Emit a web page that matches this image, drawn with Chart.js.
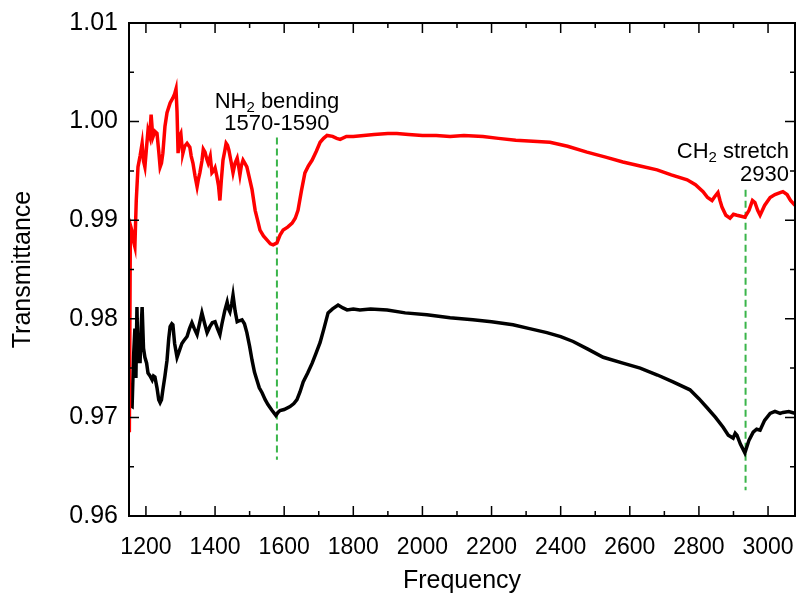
<!DOCTYPE html>
<html>
<head>
<meta charset="utf-8">
<script src="https://cdn.jsdelivr.net/npm/chart.js@4/dist/chart.umd.min.js"></script>
<style>
  html, body { margin: 0; padding: 0; background: #fff; }
  #wrap { width: 799px; height: 593px; }
</style>
</head>
<body>
<div id="wrap"><canvas id="irChart" width="799" height="593"></canvas></div>
<script>
// red spectrum (upper)
const redFreq = [1152, 1155, 1159, 1163, 1168, 1172, 1177, 1183, 1189, 1193, 1197, 1202, 1206, 1211, 1215, 1220, 1226, 1232, 1237, 1241, 1245, 1249, 1255, 1261, 1270, 1278, 1283, 1287, 1290, 1293, 1297, 1301, 1305, 1307, 1312, 1319, 1327, 1331, 1336, 1342, 1348, 1352, 1356, 1362, 1366, 1371, 1376, 1380, 1386, 1391, 1396, 1400, 1405, 1410, 1414, 1418, 1423, 1428, 1432, 1436, 1440, 1446, 1452, 1458, 1464, 1468, 1472, 1476, 1481, 1486, 1492, 1500, 1507, 1516, 1523, 1530, 1540, 1550, 1560, 1568, 1579, 1588, 1597, 1610, 1623, 1632, 1640, 1650, 1660, 1670, 1681, 1693, 1704, 1714, 1724, 1740, 1752, 1762, 1780, 1800, 1830, 1860, 1900, 1926, 1960, 2000, 2040, 2080, 2120, 2175, 2220, 2270, 2320, 2369, 2420, 2476, 2530, 2580, 2630, 2679, 2720, 2766, 2790, 2812, 2825, 2838, 2846, 2855, 2861, 2867, 2878, 2890, 2900, 2910, 2922, 2933, 2945, 2955, 2962, 2970, 2977, 2990, 3006, 3020, 3035, 3043, 3055, 3065, 3078];
const redTrans = [0.9685, 0.9895, 0.9890, 0.9880, 0.9873, 0.9920, 0.9954, 0.9965, 0.9978, 0.9960, 0.9954, 0.9975, 0.9991, 0.9985, 1.0007, 0.9984, 0.9990, 0.9988, 0.9970, 0.9954, 0.9958, 0.9968, 0.9995, 1.0009, 1.0019, 1.0024, 1.0028, 1.0033, 1.0010, 0.9968, 0.9985, 0.9988, 0.9972, 0.9968, 0.9975, 0.9978, 0.9974, 0.9965, 0.9958, 0.9945, 0.9934, 0.9942, 0.9948, 0.9960, 0.9972, 0.9969, 0.9962, 0.9958, 0.9965, 0.9948, 0.9950, 0.9953, 0.9945, 0.9935, 0.9920, 0.9940, 0.9961, 0.9970, 0.9978, 0.9976, 0.9971, 0.9960, 0.9948, 0.9958, 0.9963, 0.9955, 0.9946, 0.9955, 0.9961, 0.9958, 0.9954, 0.9942, 0.9931, 0.9910, 0.9900, 0.9890, 0.9884, 0.9880, 0.9876, 0.9875, 0.9877, 0.9885, 0.9890, 0.9893, 0.9897, 0.9902, 0.9910, 0.9930, 0.9948, 0.9955, 0.9961, 0.9970, 0.9979, 0.9983, 0.9986, 0.9985, 0.9983, 0.9982, 0.9985, 0.9985, 0.9986, 0.9987, 0.9988, 0.9988, 0.9987, 0.9986, 0.9986, 0.9985, 0.9986, 0.9985, 0.9983, 0.9981, 0.9980, 0.9979, 0.9975, 0.9969, 0.9964, 0.9959, 0.9955, 0.9951, 0.9946, 0.9941, 0.9936, 0.9929, 0.9923, 0.9920, 0.9924, 0.9928, 0.9920, 0.9913, 0.9905, 0.9902, 0.9906, 0.9905, 0.9904, 0.9903, 0.9910, 0.9920, 0.9918, 0.9910, 0.9905, 0.9915, 0.9923, 0.9926, 0.9928, 0.9929, 0.9926, 0.9920, 0.9915];

// black spectrum (lower)
const blackFreq = [1155, 1160, 1164, 1168, 1171, 1174, 1177, 1180, 1183, 1186, 1189, 1193, 1197, 1202, 1206, 1212, 1218, 1222, 1226, 1232, 1237, 1241, 1245, 1249, 1255, 1261, 1266, 1270, 1275, 1278, 1283, 1290, 1297, 1304, 1310, 1319, 1326, 1333, 1340, 1348, 1355, 1362, 1370, 1377, 1385, 1392, 1400, 1407, 1414, 1420, 1428, 1435, 1439, 1443, 1448, 1452, 1458, 1464, 1470, 1478, 1485, 1492, 1500, 1507, 1514, 1521, 1528, 1536, 1545, 1553, 1565, 1576, 1582, 1588, 1600, 1617, 1628, 1637, 1646, 1655, 1668, 1681, 1692, 1704, 1715, 1727, 1740, 1756, 1770, 1782, 1800, 1819, 1850, 1898, 1950, 2013, 2080, 2146, 2200, 2262, 2310, 2360, 2400, 2436, 2480, 2523, 2580, 2630, 2680, 2725, 2774, 2800, 2823, 2848, 2870, 2885, 2899, 2905, 2910, 2920, 2933, 2945, 2957, 2967, 2977, 2990, 3006, 3020, 3035, 3043, 3060, 3078];
const blackTrans = [0.9712, 0.9711, 0.9760, 0.9790, 0.9740, 0.9812, 0.9755, 0.9780, 0.9755, 0.9790, 0.9812, 0.9770, 0.9761, 0.9755, 0.9745, 0.9742, 0.9738, 0.9742, 0.9741, 0.9730, 0.9718, 0.9715, 0.9718, 0.9728, 0.9742, 0.9758, 0.9780, 0.9792, 0.9795, 0.9794, 0.9775, 0.9761, 0.9768, 0.9775, 0.9778, 0.9782, 0.9790, 0.9796, 0.9790, 0.9784, 0.9795, 0.9806, 0.9795, 0.9786, 0.9792, 0.9796, 0.9797, 0.9790, 0.9784, 0.9795, 0.9808, 0.9817, 0.9810, 0.9807, 0.9815, 0.9824, 0.9808, 0.9797, 0.9798, 0.9799, 0.9795, 0.9786, 0.9772, 0.9758, 0.9746, 0.9738, 0.9730, 0.9725, 0.9718, 0.9713, 0.9707, 0.9702, 0.9705, 0.9707, 0.9708, 0.9711, 0.9714, 0.9718, 0.9726, 0.9736, 0.9745, 0.9755, 0.9765, 0.9776, 0.9790, 0.9806, 0.9810, 0.9814, 0.9811, 0.9809, 0.9810, 0.9809, 0.9810, 0.9809, 0.9806, 0.9804, 0.9801, 0.9799, 0.9797, 0.9794, 0.9790, 0.9786, 0.9782, 0.9777, 0.9769, 0.9761, 0.9755, 0.9750, 0.9743, 0.9736, 0.9728, 0.9719, 0.9710, 0.9700, 0.9690, 0.9682, 0.9679, 0.9684, 0.9682, 0.9673, 0.9664, 0.9677, 0.9685, 0.9688, 0.9687, 0.9697, 0.9704, 0.9706, 0.9704, 0.9705, 0.9706, 0.9704];

// dashed marker lines
const markerFreq = [1579, 2935];
const markerTop = [0.9984, 0.9931];
const markerBottom = [0.9657, 0.9626];

// axis ticks
const xTicks = [1200, 1400, 1600, 1800, 2000, 2200, 2400, 2600, 2800, 3000];
const xMinorTicks = [1300, 1500, 1700, 1900, 2100, 2300, 2500, 2700, 2900];
const yTicks = [0.96, 0.97, 0.98, 0.99, 1.00, 1.01];
const yMinorTicks = [0.965, 0.975, 0.985, 0.995, 1.005];

const xMin = 1151, xMax = 3078;
const yMin = 0.96, yMax = 1.01;

function pairs(xs, ys) {
  return xs.map((x, i) => ({ x: x, y: ys[i] }));
}

const datasets = [
  { data: pairs(redFreq, redTrans), borderColor: '#ff0000', borderWidth: 3.5 },
  { data: pairs(blackFreq, blackTrans), borderColor: '#000000', borderWidth: 3.5 }
];
markerFreq.forEach((f, i) => {
  datasets.push({
    data: [{ x: f, y: markerTop[i] }, { x: f, y: markerBottom[i] }],
    borderColor: '#3ab54a', borderWidth: 2, borderDash: [7, 4]
  });
});

// frame with inward ticks + band labels
const framePlugin = {
  id: 'frame',
  afterDraw(chart) {
    const ctx = chart.ctx;
    const a = chart.chartArea;
    const xs = chart.scales.x, ys = chart.scales.y;
    ctx.save();
    ctx.strokeStyle = '#000';
    ctx.lineWidth = 2;
    ctx.strokeRect(a.left, a.top, a.right - a.left, a.bottom - a.top);
    ctx.lineWidth = 1.5;
    ctx.beginPath();
    const tx = (v, len) => {
      const p = xs.getPixelForValue(v);
      ctx.moveTo(p, a.bottom); ctx.lineTo(p, a.bottom - len);
      ctx.moveTo(p, a.top); ctx.lineTo(p, a.top + len);
    };
    const ty = (v, len) => {
      const p = ys.getPixelForValue(v);
      ctx.moveTo(a.left, p); ctx.lineTo(a.left + len, p);
      ctx.moveTo(a.right, p); ctx.lineTo(a.right - len, p);
    };
    xTicks.forEach(v => tx(v, 10));
    xMinorTicks.forEach(v => tx(v, 5));
    yTicks.forEach(v => ty(v, 10));
    yMinorTicks.forEach(v => ty(v, 5));
    ctx.stroke();

    // labels
    ctx.fillStyle = '#000';
    ctx.textBaseline = 'middle';
    const big = '22px "Liberation Sans", Arial, sans-serif';
    const small = '15px "Liberation Sans", Arial, sans-serif';
    function subText(parts, x, y, align) {
      let w = 0;
      parts.forEach(p => { ctx.font = p[1] ? small : big; w += ctx.measureText(p[0]).width; });
      let cx = align === 'center' ? x - w / 2 : (align === 'right' ? x - w : x);
      ctx.textAlign = 'left';
      parts.forEach(p => {
        ctx.font = p[1] ? small : big;
        ctx.fillText(p[0], cx, p[1] ? y + 6 : y);
        cx += ctx.measureText(p[0]).width;
      });
    }
    const m1 = xs.getPixelForValue(markerFreq[0]);
    subText([['NH', false], ['2', true], [' bending', false]], m1, 102, 'center');
    subText([['1570-1590', false]], m1, 124, 'center');
    subText([['CH', false], ['2', true], [' stretch', false]], a.right - 6, 152, 'right');
    subText([['2930', false]], a.right - 6, 175, 'right');
    ctx.restore();
  }
};

new Chart(document.getElementById('irChart'), {
  type: 'line',
  data: { datasets: datasets },
  plugins: [framePlugin],
  options: {
    responsive: false,
    animation: false,
    layout: { padding: { top: 23, right: 4, left: 0, bottom: 0 } },
    elements: { point: { radius: 0 }, line: { tension: 0, fill: false } },
    plugins: { legend: { display: false }, tooltip: { enabled: false } },
    scales: {
      x: {
        type: 'linear', min: xMin, max: xMax,
        afterBuildTicks: s => { s.ticks = xTicks.map(v => ({ value: v })); },
        afterFit: s => { s.height = 77; s.paddingLeft = 0; s.paddingRight = 0; },
        grid: { display: false, drawTicks: false },
        border: { display: false },
        ticks: { color: '#000', padding: 18, maxRotation: 0, callback: v => String(v), font: { family: '"Liberation Sans", Arial, sans-serif', size: 23 } },
        title: { display: true, text: 'Frequency', color: '#000', padding: { top: 0, bottom: -3 }, font: { family: '"Liberation Sans", Arial, sans-serif', size: 25 } }
      },
      y: {
        type: 'linear', min: yMin, max: yMax,
        afterBuildTicks: s => { s.ticks = yTicks.map(v => ({ value: v })); },
        afterFit: s => { s.width = 129; s.paddingTop = 0; s.paddingBottom = 0; },
        grid: { display: false, drawTicks: false },
        border: { display: false },
        ticks: { color: '#000', padding: 11, callback: v => v.toFixed(2), font: { family: '"Liberation Sans", Arial, sans-serif', size: 25 } },
        title: { display: true, text: 'Transmittance', color: '#000', padding: { top: 8, bottom: 0 }, font: { family: '"Liberation Sans", Arial, sans-serif', size: 25 } }
      }
    }
  }
});
</script>
</body>
</html>
